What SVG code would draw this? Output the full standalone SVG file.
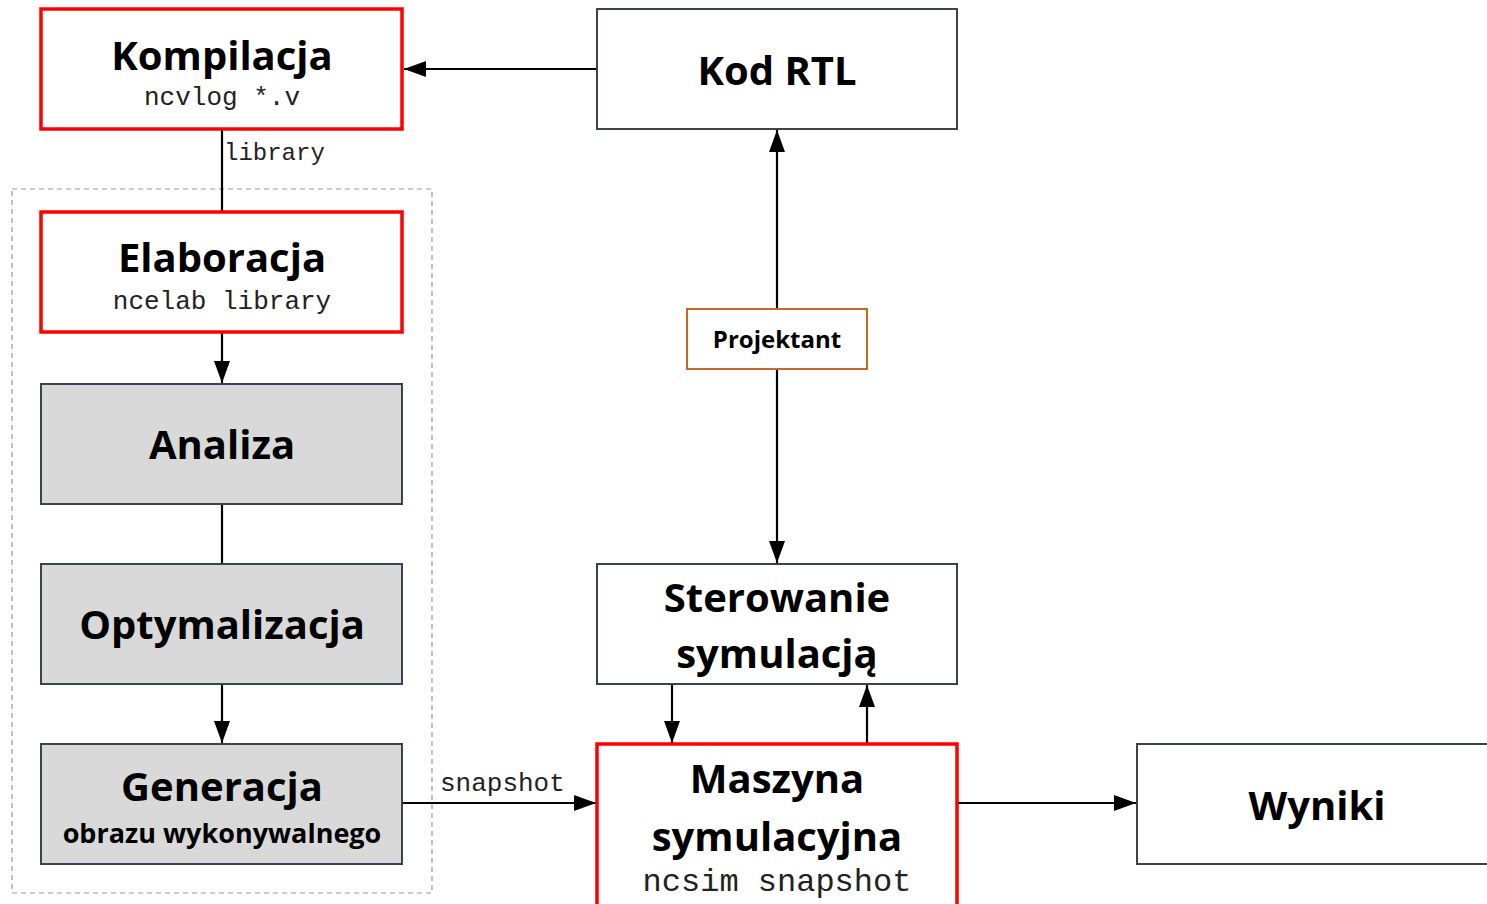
<svg xmlns="http://www.w3.org/2000/svg" width="1487" height="904" viewBox="0 0 1487 904">
<style>
.box{fill:#fff;stroke:#3b4350;stroke-width:2}
.red{fill:#fff;stroke:#ff0000;stroke-width:3.5}
.gray{fill:#d9d9d9;stroke:#3b4350;stroke-width:2}
.org{fill:#fff;stroke:#cc6622;stroke-width:2}
.t{font-family:"Open Sans","Noto Sans",sans-serif;font-weight:bold;fill:#000;text-anchor:middle}
.m{font-family:"Liberation Mono","DejaVu Sans Mono",monospace;fill:#222}
.ln{stroke:#000;stroke-width:2.2;fill:none}
</style>
<defs>
<marker id="a" markerWidth="22" markerHeight="16" refX="22" refY="8" orient="auto" markerUnits="userSpaceOnUse" viewBox="0 0 22 16">
<path d="M0,0 L22,8 L0,16 z" fill="#000"/>
</marker>
</defs>
<rect x="12" y="189" width="420" height="704" fill="none" stroke="#999" stroke-width="1.2" stroke-dasharray="5,4"/>
<g id="connectors">
<line class="ln" x1="597" y1="69" x2="404" y2="69" marker-end="url(#a)"/>
<line class="ln" x1="222" y1="130" x2="222" y2="211"/>
<line class="ln" x1="222" y1="333" x2="222" y2="383" marker-end="url(#a)"/>
<line class="ln" x1="222" y1="505" x2="222" y2="563"/>
<line class="ln" x1="222" y1="685" x2="222" y2="743" marker-end="url(#a)"/>
<line class="ln" x1="403" y1="803" x2="596" y2="803" marker-end="url(#a)"/>
<line class="ln" x1="777" y1="308" x2="777" y2="130" marker-end="url(#a)"/>
<line class="ln" x1="777" y1="370" x2="777" y2="563" marker-end="url(#a)"/>
<line class="ln" x1="672" y1="685" x2="672" y2="743" marker-end="url(#a)"/>
<line class="ln" x1="867" y1="743" x2="867" y2="685" marker-end="url(#a)"/>
<line class="ln" x1="958" y1="803" x2="1136" y2="803" marker-end="url(#a)"/>
<text class="m" x="224" y="160" style="font-size:24px">library</text>
<text class="m" x="440" y="791" style="font-size:26px">snapshot</text>
</g>
<g id="kompilacja">
<rect class="red" x="41" y="9" width="361" height="120"/>
<text class="t" x="222" y="70" style="font-size:40px">Kompilacja</text>
<text class="m" x="222" y="105" style="font-size:26px;text-anchor:middle">ncvlog *.v</text>
</g>
<g id="kod-rtl">
<rect class="box" x="597" y="9" width="360" height="120"/>
<text class="t" x="777" y="85" style="font-size:40px">Kod RTL</text>
</g>
<g id="elaboracja">
<rect class="red" x="41" y="212" width="361" height="120"/>
<text class="t" x="222" y="272" style="font-size:40px">Elaboracja</text>
<text class="m" x="222" y="309" style="font-size:26px;text-anchor:middle">ncelab library</text>
</g>
<g id="analiza">
<rect class="gray" x="41" y="384" width="361" height="120"/>
<text class="t" x="222" y="459" style="font-size:40px">Analiza</text>
</g>
<g id="optymalizacja">
<rect class="gray" x="41" y="564" width="361" height="120"/>
<text class="t" x="222" y="639" style="font-size:40px">Optymalizacja</text>
</g>
<g id="generacja">
<rect class="gray" x="41" y="744" width="361" height="120"/>
<text class="t" x="222" y="801" style="font-size:40px">Generacja</text>
<text class="t" x="222" y="843" style="font-size:27px">obrazu wykonywalnego</text>
</g>
<g id="projektant">
<rect class="org" x="687" y="309" width="180" height="60"/>
<text class="t" x="777" y="348" style="font-size:24px">Projektant</text>
</g>
<g id="sterowanie">
<rect class="box" x="597" y="564" width="360" height="120"/>
<text class="t" x="777" y="612" style="font-size:40px">Sterowanie</text>
<text class="t" x="777" y="668" style="font-size:40px">symulacją</text>
</g>
<g id="maszyna">
<rect class="red" x="597" y="744" width="360" height="170"/>
<text class="t" x="777" y="793" style="font-size:40px">Maszyna</text>
<text class="t" x="777" y="851" style="font-size:40px">symulacyjna</text>
<text class="m" x="777" y="891" style="font-size:32px;text-anchor:middle">ncsim snapshot</text>
</g>
<g id="wyniki">
<rect class="box" x="1137" y="744" width="360" height="120"/>
<text class="t" x="1317" y="820" style="font-size:40px">Wyniki</text>
</g>
</svg>
